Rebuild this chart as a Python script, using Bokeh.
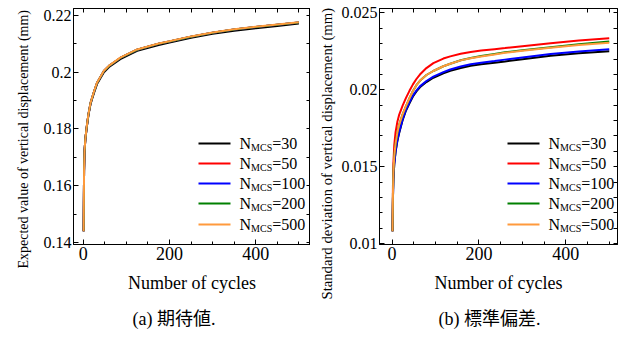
from bokeh.plotting import figure
from bokeh.models import FixedTicker, LinearAxis, Range1d, Label, BoxAnnotation, Title
from bokeh.layouts import row
from bokeh.embed import file_html
from bokeh.resources import INLINE

FONT = "Liberation Serif, serif"
CJK_FONT = "Liberation Serif, Noto Sans CJK JP"

# ---------------- data ----------------
series_names = ["30", "50", "100", "200", "500"]
series_colors = ["#000000", "#ff0000", "#0000ff", "#008000", "#ff9a3c"]

# (a) expected value of vertical displacement (mm)
cycles_a = [1, 2, 3, 5, 8, 12, 17, 25, 32, 48, 60, 86, 125, 175, 200, 250, 300, 350, 400, 450, 500]
mean_30 = [0.1440, 0.1650, 0.1720, 0.1763, 0.1803, 0.1848, 0.1888, 0.1927, 0.1958, 0.2000, 0.2018, 0.2046,
           0.2075, 0.2096, 0.2104, 0.2121, 0.2135, 0.2146, 0.2155, 0.2163, 0.2171]
mean_50 = [0.1440, 0.1650, 0.1720, 0.1765, 0.1805, 0.1850, 0.1891, 0.1931, 0.1962, 0.2004, 0.2022, 0.2050,
           0.2079, 0.2100, 0.2108, 0.2125, 0.2139, 0.2150, 0.2159, 0.2167, 0.2175]
mean_100 = [0.1440, 0.1650, 0.1720, 0.1765, 0.1805, 0.1850, 0.1891, 0.1931, 0.1962, 0.2004, 0.2022, 0.2050,
            0.2079, 0.2100, 0.2108, 0.2125, 0.2139, 0.2150, 0.2159, 0.2167, 0.2175]
mean_200 = [0.1440, 0.1650, 0.1720, 0.1765, 0.1805, 0.1850, 0.1891, 0.1931, 0.1962, 0.2004, 0.2022, 0.2050,
            0.2079, 0.2100, 0.2108, 0.2125, 0.2139, 0.2150, 0.2159, 0.2167, 0.2175]
mean_500 = [0.1440, 0.1650, 0.1720, 0.1765, 0.1806, 0.1851, 0.1892, 0.1932, 0.1963, 0.2005, 0.2023, 0.2051,
            0.2080, 0.2101, 0.2109, 0.2126, 0.2140, 0.2151, 0.2160, 0.2168, 0.2176]

# (b) standard deviation of vertical displacement (mm)
cycles_b = [1, 2, 3, 5, 8, 12, 16, 24, 32, 40, 48, 56, 64, 79, 95, 118, 134, 158, 181, 205, 236, 260,
            300, 365, 430, 500]
std_30 = [0.01080, 0.01296, 0.01416, 0.01515, 0.01595, 0.01665, 0.01715, 0.01800, 0.01865, 0.01912,
          0.01956, 0.01989, 0.02016, 0.02050, 0.02078, 0.02107, 0.02123, 0.02142, 0.02156, 0.02166,
          0.02176, 0.02184, 0.02198, 0.02221, 0.02237, 0.02250]
std_50 = [0.01080, 0.01380, 0.01520, 0.01640, 0.01725, 0.01790, 0.01835, 0.01895, 0.01947, 0.01993,
          0.02035, 0.02070, 0.02099, 0.02141, 0.02173, 0.02203, 0.02217, 0.02234, 0.02246, 0.02255,
          0.02264, 0.02271, 0.02283, 0.02302, 0.02320, 0.02335]
std_100 = [0.01080, 0.01300, 0.01420, 0.01520, 0.01600, 0.01670, 0.01720, 0.01805, 0.01870, 0.01918,
           0.01962, 0.01995, 0.02022, 0.02057, 0.02085, 0.02115, 0.02132, 0.02151, 0.02166, 0.02176,
           0.02187, 0.02196, 0.02210, 0.02233, 0.02249, 0.02263]
std_200 = [0.01080, 0.01330, 0.01460, 0.01570, 0.01650, 0.01720, 0.01770, 0.01838, 0.01894, 0.01945,
           0.01992, 0.02030, 0.02058, 0.02096, 0.02122, 0.02153, 0.02169, 0.02192, 0.02206, 0.02219,
           0.02233, 0.02244, 0.02257, 0.02277, 0.02296, 0.02314]
std_500 = [0.01080, 0.01330, 0.01460, 0.01570, 0.01650, 0.01720, 0.01770, 0.01838, 0.01894, 0.01945,
           0.01992, 0.02030, 0.02058, 0.02096, 0.02122, 0.02153, 0.02169, 0.02191, 0.02205, 0.02217,
           0.02230, 0.02240, 0.02253, 0.02274, 0.02291, 0.02306]

x_ticks = [0, 200, 400]
x_minor_ticks = [-50, 50, 100, 150, 250, 300, 350, 450, 500, 550]
ya_ticks = [0.14, 0.16, 0.18, 0.2, 0.22]
ya_tick_labels = ["0.14", "0.16", "0.18", "0.2", "0.22"]
ya_minor_ticks = [0.13, 0.15, 0.17, 0.19, 0.21, 0.23]
yb_ticks = [0.01, 0.015, 0.02, 0.025]
yb_tick_labels = ["0.01", "0.015", "0.02", "0.025"]
yb_minor_ticks = [0.011, 0.012, 0.013, 0.014, 0.016, 0.017, 0.018, 0.019,
                  0.021, 0.022, 0.023, 0.024]

x_label = "Number of cycles"
ya_label = "Expected value of vertical displacement (mm)"
yb_label = "Standard deviation of vertical displacement (mm)"
caption_a = "(a) 期待値."
caption_b = "(b) 標準偏差."


def style_axis(ax, ticker, label_size):
    ax.ticker = ticker
    ax.major_tick_in = 5
    ax.major_tick_out = 0
    ax.minor_tick_in = 3
    ax.minor_tick_out = 0
    ax.axis_line_color = "black"
    ax.major_tick_line_color = "black"
    ax.minor_tick_line_color = "black"
    ax.major_label_text_font = FONT
    ax.major_label_text_color = "black"
    ax.major_label_text_font_size = label_size
    ax.major_label_standoff = 2
    ax.axis_label_text_font = FONT
    ax.axis_label_text_font_style = "normal"
    ax.axis_label_text_color = "black"


def mirror_axis(ticks, minor):
    # tick marks only (no labels) for the top / right frame edges
    ax = LinearAxis(ticker=FixedTicker(ticks=[], minor_ticks=sorted(list(ticks) + list(minor))))
    ax.minor_tick_in = 4
    ax.minor_tick_out = 0
    ax.major_tick_in = 0
    ax.major_tick_out = 0
    ax.major_label_standoff = 0
    ax.axis_line_color = "black"
    ax.minor_tick_line_color = "black"
    return ax


def make_panel(cycles, ys, x_range, y_range, yticks, yminor, ylabels, ylabel, caption,
               width, border_left, border_right, border_top, legend_x, caption_offset,
               ylabel_offset, ylabel_standoff, ylabel_size):
    p = figure(width=width, height=340, output_backend="svg", toolbar_location=None,
               x_range=Range1d(*x_range), y_range=Range1d(*y_range),
               min_border_left=border_left, min_border_right=border_right,
               min_border_top=border_top, min_border_bottom=92)
    p.grid.visible = False
    p.outline_line_color = "black"
    p.outline_line_width = 1
    p.background_fill_color = "white"
    p.border_fill_color = "white"

    style_axis(p.xaxis[0], FixedTicker(ticks=x_ticks, minor_ticks=x_minor_ticks), "18px")
    p.xaxis[0].axis_label = x_label
    p.xaxis[0].axis_label_text_font_size = "18px"
    p.xaxis[0].axis_label_standoff = 10

    style_axis(p.yaxis[0], FixedTicker(ticks=yticks, minor_ticks=yminor), "16px")
    p.yaxis[0].major_label_overrides = {t: s for t, s in zip(yticks, ylabels)}

    p.add_layout(mirror_axis(x_ticks, x_minor_ticks), "above")
    p.add_layout(mirror_axis(yticks, yminor), "right")

    # rotated y title, as a side title so that it can be shifted along the axis
    p.add_layout(Title(text=ylabel, align="left", offset=ylabel_offset, text_font=FONT,
                       text_font_size=ylabel_size, text_font_style="normal", text_color="black",
                       standoff=ylabel_standoff), "left")

    for yv, col in zip(ys, series_colors):
        p.line(cycles, yv, line_color=col, line_width=2)

    # legend (drawn with annotations so that the subscript is possible)
    row_y = [101, 81, 61, 41, 20]
    for i, (name, col) in enumerate(zip(series_names, series_colors)):
        yy = row_y[i]
        p.add_layout(BoxAnnotation(left=legend_x, right=legend_x + 32, bottom=yy - 1, top=yy + 1,
                                   left_units="screen", right_units="screen",
                                   bottom_units="screen", top_units="screen",
                                   fill_color=col, fill_alpha=1.0, line_alpha=0))
        tx = legend_x + 41
        p.add_layout(Label(x=tx, y=yy, x_units="screen", y_units="screen", text="N",
                           text_font=FONT, text_font_size="16px", text_baseline="middle",
                           text_color="black"))
        p.add_layout(Label(x=tx + 11.6, y=yy - 4, x_units="screen", y_units="screen", text="MCS",
                           text_font=FONT, text_font_size="10px", text_baseline="middle",
                           text_color="black"))
        p.add_layout(Label(x=tx + 32.7, y=yy, x_units="screen", y_units="screen", text="=" + name,
                           text_font=FONT, text_font_size="16px", text_baseline="middle",
                           text_color="black"))

    p.add_layout(Title(text=caption, align="left", offset=caption_offset, text_font=CJK_FONT,
                       text_font_size="18px", text_font_style="normal", text_color="black",
                       standoff=23), "below")
    return p


pa = make_panel(cycles_a, [mean_30, mean_50, mean_100, mean_200, mean_500],
                (-22.5, 527), (0.139307, 0.222424), ya_ticks, ya_minor_ticks, ya_tick_labels,
                ya_label, caption_a, 310, 73, 0, 8, 125, 59, -24, 19, "14px")
pb = make_panel(cycles_b, [std_30, std_50, std_100, std_200, std_500],
                (-29, 519), (0.009937, 0.025285), yb_ticks, yb_minor_ticks, yb_tick_labels,
                yb_label, caption_b, 311, 69, 4, 6, 128, 59, -55, 7, "14.7px")

layout = row(pa, pb)
open("out.html", "w").write(file_html(layout, INLINE))
